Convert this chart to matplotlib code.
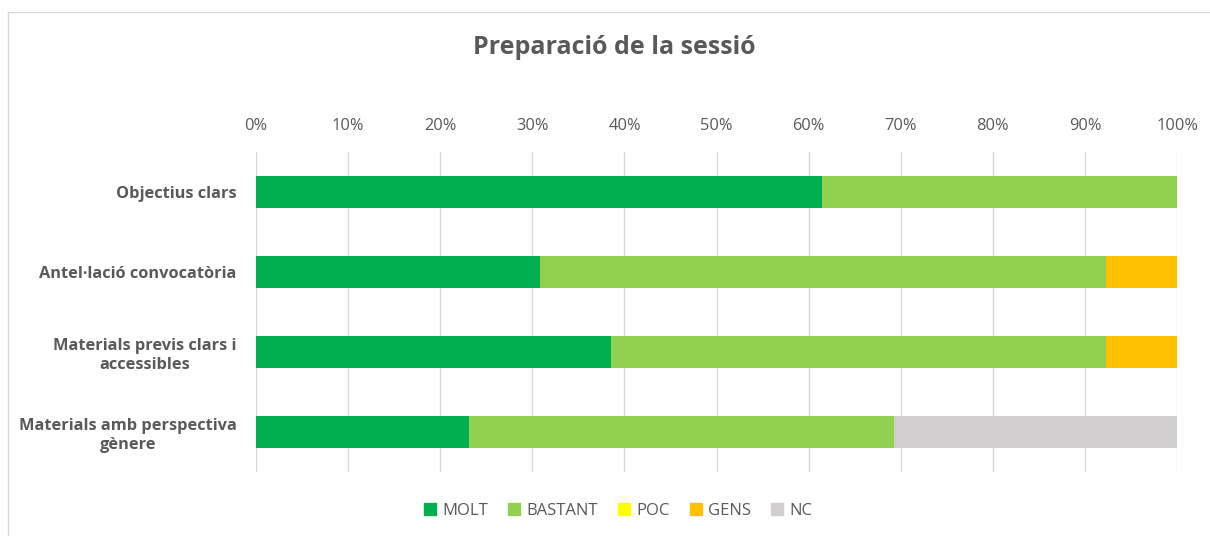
import numpy as np
import matplotlib.pyplot as plt
from matplotlib.lines import Line2D
from matplotlib.ticker import PercentFormatter

categories = [
    "Objectius clars",
    "Antel·lació convocatòria",
    "Materials previs clars i\naccessibles",
    "Materials amb perspectiva\ngènere",
]
series = ["MOLT", "BASTANT", "POC", "GENS", "NC"]
colors = ["#00b050", "#92d050", "#ffff00", "#ffc000", "#d0cece"]
# responses out of 13 people, as shares
molt = [61.5, 30.8, 38.5, 23.1]
bastant = [38.5, 61.5, 53.8, 46.2]
poc = [0, 0, 0, 0]
gens = [0, 7.7, 7.7, 0]
nc = [0, 0, 0, 30.8]
values = [molt, bastant, poc, gens, nc]

plt.rcParams["font.family"] = ["Open Sans", "DejaVu Sans"]
grey = "#595959"

fig = plt.figure(figsize=(12.1, 5.36), dpi=100)
ax = fig.add_axes([0.2116, 0.1194, 0.7612, 0.5970])

y = np.arange(len(categories))
left = np.zeros(len(categories))
for name, vals, c in zip(series, values, colors):
    ax.barh(y, vals, left=left, height=0.4, color=c, label=name, zorder=2)
    left += np.array(vals)

ax.set_xlim(0, 100)
ax.set_ylim(len(categories) - 0.5, -0.5)
ax.set_xticks(np.arange(0, 101, 10))
ax.xaxis.set_major_formatter(PercentFormatter(decimals=0))
ax.xaxis.tick_top()
ax.tick_params(axis="x", length=0, pad=13, labelsize=11.8, labelcolor=grey)
ax.set_yticks(y)
ax.set_yticklabels(categories, fontweight="bold", fontsize=11.8, color=grey,
                   linespacing=1.25, multialignment="center")
ax.tick_params(axis="y", length=0, pad=14)
ax.grid(axis="x", color="#d9d9d9", lw=1, zorder=0)
for s in ax.spines.values():
    s.set_visible(False)

fig.text(0.508, 0.912, "Preparació de la sessió", ha="center", va="center",
         fontsize=18, fontweight="bold", color=grey)

handles = [Line2D([], [], marker="s", ls="none", color=c, markersize=8.5)
           for c in colors]
fig.legend(handles, series, loc="center", bbox_to_anchor=(0.511, 0.047),
           ncol=5, frameon=False, fontsize=12, labelcolor=grey,
           handlelength=0.7, handletextpad=0.4, columnspacing=1.2)

# outer chart border
fig.add_artist(Line2D([8 / 1210, 8 / 1210], [0, 1 - 12 / 536],
                      color="#d9d9d9", lw=1, transform=fig.transFigure))
fig.add_artist(Line2D([8 / 1210, 1], [1 - 12 / 536, 1 - 12 / 536],
                      color="#d9d9d9", lw=1, transform=fig.transFigure))

fig.savefig("out.png", dpi=100)
